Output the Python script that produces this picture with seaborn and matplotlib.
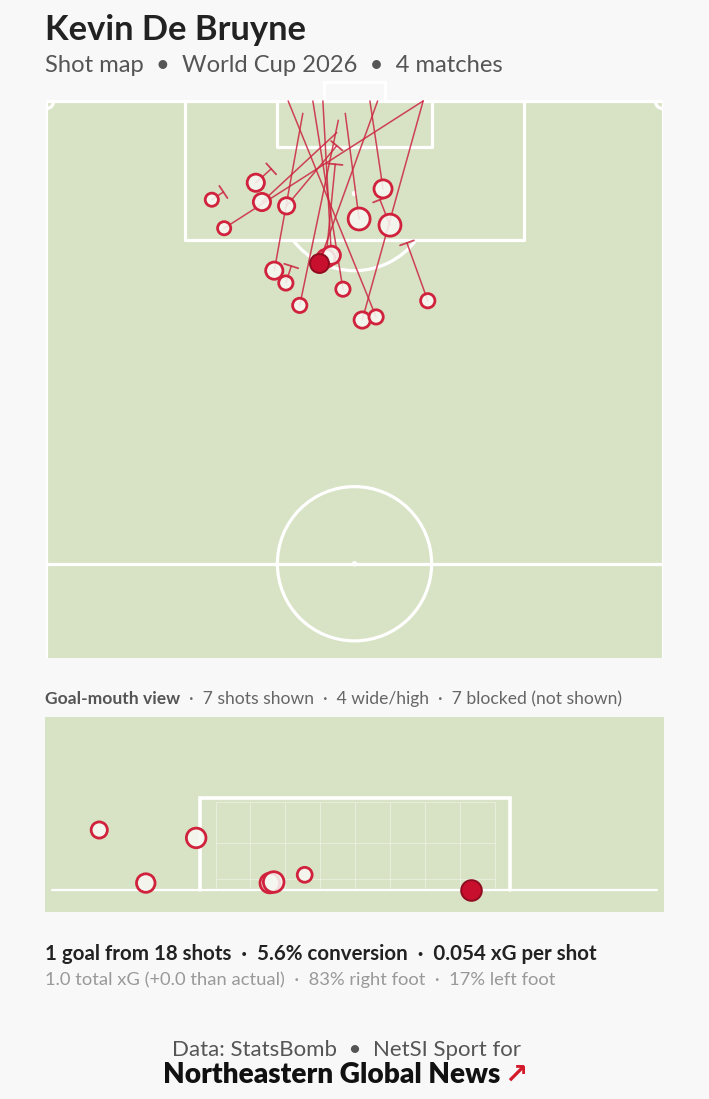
import numpy as np
import pandas as pd
import seaborn as sns
import matplotlib.pyplot as plt
from matplotlib.patches import Rectangle, Circle, Arc

# shots, StatsBomb coords (x = length, goal at 120 / y = width 0..80)
shot_x = [107.2, 109.4, 106.9, 103.5, 106.4, 108.6, 104.7, 103.9, 98.0, 96.4,
          93.5, 95.6, 91.6, 92.0, 94.1, 99.6, 100.0, 99.0]
shot_y = [21.5, 27.2, 28.0, 23.1, 31.2, 43.7, 40.6, 44.6, 29.6, 31.1,
          32.9, 38.5, 41.0, 42.8, 49.5, 36.3, 37.0, 35.4]
end_x = [108.2, 111.2, 115.9, 120.0, 114.2, 120.0, 118.4, 107.2, 118.4, 98.6,
         117.5, 120.0, 120.0, 120.0, 101.6, 111.8, 120.0, 120.0]
end_y = [23.0, 29.2, 37.7, 48.9, 37.7, 42.0, 38.8, 43.3, 33.3, 31.8,
         37.9, 34.6, 48.9, 31.4, 46.8, 37.5, 35.9, 43.0]
shot_xg = [0.02, 0.06, 0.06, 0.02, 0.05, 0.07, 0.12, 0.12, 0.06, 0.03,
           0.03, 0.03, 0.05, 0.03, 0.03, 0.07, 0.07, 0.08]
outcome = ['Blocked', 'Blocked', 'Saved', 'Wayward', 'Blocked', 'Saved',
           'Saved', 'Blocked', 'Saved', 'Blocked', 'Saved', 'Off T', 'Off T',
           'Off T', 'Blocked', 'Blocked', 'Post', 'Goal']

# goal-mouth view (end location across goal / height)
gm_y = [33.4, 34.6, 35.9, 37.8, 37.9, 38.7, 43.0]
gm_z = [1.74, 0.20, 1.51, 0.20, 0.23, 0.44, 0.0]
gm_xg = [0.04, 0.06, 0.07, 0.07, 0.08, 0.03, 0.08]
gm_goal = [False, False, False, False, False, False, True]

title = 'Kevin De Bruyne'
subtitle = 'Shot map  \u2022  World Cup 2026  \u2022  4 matches'
stats_main = '1 goal from 18 shots  \u00b7  5.6% conversion  \u00b7  0.054 xG per shot'
stats_sub = '1.0 total xG (+0.0 than actual)  \u00b7  83% right foot  \u00b7  17% left foot'

W, H = 709, 1099
BG = '#f8f8f8'
GRASS = '#d7e3c4'
RED = '#cc2440'
EDGE = '#d0223c'
FACE = (0.97, 0.97, 0.95, 0.88)

sns.set_theme(style='white')
plt.rcParams['font.family'] = ['Lato', 'DejaVu Sans']

df = pd.DataFrame({'x': shot_x, 'y': shot_y, 'ex': end_x, 'ey': end_y,
                   'xg': shot_xg, 'outcome': outcome})
gm = pd.DataFrame({'y': gm_y, 'z': gm_z, 'xg': gm_xg, 'goal': gm_goal})

fig = plt.figure(figsize=(W / 100, H / 100), dpi=100, facecolor=BG)


def fx(px):
    return px / W


def fy(py):
    return 1 - py / H


# ---- pitch ----
ax = fig.add_axes([fx(46), fy(658), 617 / W, 578 / H])
ax.set_facecolor(BG)
y_lo = 47.78
lw = 2.3
ax.add_patch(Rectangle((0, y_lo), 80, 120 - y_lo, fc=GRASS, ec='none', zorder=0))
line_kw = dict(color='white', lw=lw, zorder=1, solid_capstyle='butt')
ax.plot([0, 80], [120, 120], **line_kw)
ax.plot([0, 0], [y_lo, 120], **line_kw)
ax.plot([80, 80], [y_lo, 120], **line_kw)
ax.plot([0, 80], [60, 60], **line_kw)
ax.plot([18, 18, 62, 62], [120, 102, 102, 120], **line_kw)
ax.plot([30, 30, 50, 50], [120, 114, 114, 120], **line_kw)
ax.plot([36, 36, 44, 44], [120, 122.5, 122.5, 120], **line_kw)
ax.add_patch(Circle((40, 60), 10, fill=False, ec='white', lw=lw, zorder=1))
ax.add_patch(Circle((40, 60), 0.35, fc='white', ec='none', zorder=1))
ax.add_patch(Circle((40, 108), 0.35, fc='white', ec='none', zorder=1))
ax.add_patch(Arc((40, 108), 20, 20, theta1=216.87, theta2=323.13, color='white', lw=lw, zorder=1))
ax.add_patch(Arc((0, 120), 2, 2, theta1=270, theta2=360, color='white', lw=lw, zorder=1))
ax.add_patch(Arc((80, 120), 2, 2, theta1=180, theta2=270, color='white', lw=lw, zorder=1))

# shot trajectories, blocked shots get a T at the end
for _, r in df.iterrows():
    ax.plot([r['y'], r['ey']], [r['x'], r['ex']], color=RED, lw=1.1, alpha=0.85, zorder=2)
    if r['outcome'] == 'Blocked':
        d = np.array([r['ey'] - r['y'], r['ex'] - r['x']])
        d = d / np.linalg.norm(d)
        p = np.array([-d[1], d[0]]) * 0.95
        ax.plot([r['ey'] - p[0], r['ey'] + p[0]], [r['ex'] - p[1], r['ex'] + p[1]],
                color=RED, lw=1.3, alpha=0.85, zorder=2)

not_goal = df[df['outcome'] != 'Goal']
goals = df[df['outcome'] == 'Goal']
sns.scatterplot(data=not_goal, x='y', y='x', size='xg', sizes=(90, 250), size_norm=(0.02, 0.12),
                color=FACE, edgecolor=EDGE, linewidth=2.0, legend=False, ax=ax, zorder=4)
sns.scatterplot(data=goals, x='y', y='x', size='xg', sizes=(90, 250), size_norm=(0.02, 0.12),
                color='#c8102e', edgecolor='#8f0b20', linewidth=1.4, legend=False, ax=ax, zorder=5)
ax.set_xlim(0, 80)
ax.set_ylim(y_lo, 122.72)
ax.axis('off')

# ---- goal-mouth view ----
ax2 = fig.add_axes([fx(45), fy(912), 619 / W, 195 / H])
ax2.set_facecolor(GRASS)
net_x = np.linspace(36.4, 43.6, 9)
ax2.vlines(net_x, 0, 2.55, color='white', lw=0.6, alpha=0.45, zorder=1)
ax2.hlines([0.32, 1.36, 2.55], 36.4, 43.6, color='white', lw=0.6, alpha=0.45, zorder=1)
ax2.plot([32.18, 47.8], [0, 0], color='white', lw=1.6, zorder=2)
ax2.plot([36, 36, 44, 44], [0, 2.67, 2.67, 0], color='white', lw=2.6, zorder=2,
         solid_joinstyle='miter')
sns.scatterplot(data=gm[~gm['goal']], x='y', y='z', size='xg', sizes=(115, 220), size_norm=(0.03, 0.08),
                color=FACE, edgecolor=EDGE, linewidth=2.0, legend=False, ax=ax2, zorder=4)
sns.scatterplot(data=gm[gm['goal']], x='y', y='z', size='xg', sizes=(115, 220), size_norm=(0.03, 0.08),
                color='#c8102e', edgecolor='#8f0b20', linewidth=1.4, legend=False, ax=ax2, zorder=5)
ax2.set_xlim(32.0, 47.97)
ax2.set_ylim(-0.64, 5.02)
ax2.set_xticks([])
ax2.set_yticks([])
ax2.set_xlabel('')
ax2.set_ylabel('')
for s in ax2.spines.values():
    s.set_visible(False)

# ---- texts ----
fig.text(fx(45), fy(39.5), title, fontsize=24.8, fontweight='bold', color='#222222', va='baseline')
fig.text(fx(45), fy(72), subtitle, fontsize=17.1, color='#555555', va='baseline')

t = fig.text(fx(45), fy(704), 'Goal-mouth view', fontsize=12.6, fontweight='bold',
             color='#555555', va='baseline')
fig.canvas.draw()
bb = t.get_window_extent()
fig.text(bb.x1 / W, fy(704), '  \u00b7  7 shots shown  \u00b7  4 wide/high  \u00b7  7 blocked (not shown)',
         fontsize=12.6, color='#666666', va='baseline')

fig.text(fx(45), fy(960), stats_main, fontsize=14.8, fontweight='bold', color='#222222', va='baseline')
fig.text(fx(45), fy(985), stats_sub, fontsize=13.2, color='#999999', va='baseline')

fig.text(fx(346), fy(1056), 'Data: StatsBomb  \u2022  NetSI Sport for', fontsize=16,
         color='#555555', va='baseline', ha='center')
n = fig.text(fx(163), fy(1083), 'Northeastern Global News', fontsize=20.2, fontweight='heavy',
             color='#111111', va='baseline')
fig.canvas.draw()
nb = n.get_window_extent()
fig.text(nb.x1 / W + 0.005, fy(1083), '\u2197', fontsize=20, fontweight='bold',
         color='#d41b2c', va='baseline', family='DejaVu Sans')

fig.savefig('out.png', dpi=100, facecolor=BG)
